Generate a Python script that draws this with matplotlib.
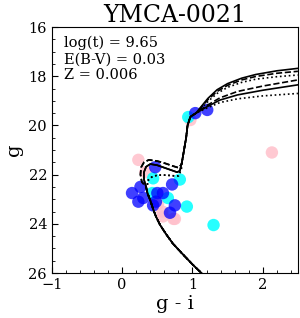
import numpy as np
import matplotlib
matplotlib.use("Agg")
import matplotlib.pyplot as plt
from matplotlib.ticker import AutoMinorLocator

plt.rcParams['font.family'] = 'DejaVu Serif'

# observed stars (g - i, g)
pink_x = [0.23, 2.13, 0.33, 0.44, 0.51, 0.57, 0.58, 0.73, 0.75, 0.97]
pink_y = [21.4, 21.1, 21.9, 22.8, 23.2, 23.5, 23.7, 23.8, 23.8, 19.78]
cyan_x = [0.94, 0.44, 0.82, 0.43, 0.65, 0.92, 1.30]
cyan_y = [19.66, 22.15, 22.2, 22.75, 22.95, 23.3, 24.05]
blue_x = [0.47, 0.14, 0.26, 0.23, 0.30, 0.44, 0.48, 0.50, 0.58, 0.71, 0.75, 0.68, 1.04, 1.21]
blue_y = [21.7, 22.75, 22.5, 23.1, 22.95, 23.25, 23.1, 22.75, 22.75, 22.4, 23.25, 23.55, 19.5, 19.37]

# isochrone pieces
ms_x = [1.20, 1.00, 0.85, 0.72, 0.62, 0.54, 0.48, 0.44, 0.40, 0.36, 0.34]
ms_y = [26.2, 25.65, 25.2, 24.8, 24.4, 24.05, 23.7, 23.4, 23.05, 22.75, 22.5]

to_solid_x = [0.31, 0.31, 0.34, 0.40, 0.50, 0.60, 0.70, 0.78, 0.82]
to_solid_y = [22.2, 21.9, 21.68, 21.57, 21.62, 21.72, 21.82, 21.9, 21.85]
to_dash_x = [0.28, 0.26, 0.27, 0.31, 0.38, 0.50, 0.62, 0.72, 0.80, 0.84]
to_dash_y = [22.3, 22.0, 21.7, 21.5, 21.4, 21.45, 21.55, 21.65, 21.72, 21.6]
to_dot_x = [0.36, 0.36, 0.42, 0.50, 0.62, 0.74, 0.80, 0.84]
to_dot_y = [22.5, 22.25, 22.1, 22.02, 22.02, 22.05, 22.05, 21.8]

rgb_x = [0.85, 0.88, 0.91, 0.93, 0.97, 1.05]
rgb_y = [21.5, 21.0, 20.5, 20.0, 19.65, 19.5]

upA_solid_x = [1.12, 1.22, 1.35, 1.50, 1.70, 1.90, 2.20, 2.50]
upA_solid_y = [19.25, 18.9, 18.55, 18.3, 18.08, 17.93, 17.78, 17.68]
upA_dash_x = [1.12, 1.22, 1.35, 1.50, 1.70, 1.90, 2.20, 2.50]
upA_dash_y = [19.28, 18.95, 18.62, 18.37, 18.15, 18.01, 17.88, 17.80]
upA_dot_x = [1.13, 1.23, 1.35, 1.50, 1.70, 1.90, 2.20, 2.50]
upA_dot_y = [19.3, 19.0, 18.7, 18.45, 18.25, 18.12, 18.02, 17.95]
upB_dash_x = [1.20, 1.39, 1.64, 2.00, 2.50]
upB_dash_y = [19.2, 18.88, 18.62, 18.40, 18.15]
upB_solid_x = [1.20, 1.39, 1.64, 2.00, 2.50]
upB_solid_y = [19.25, 18.97, 18.76, 18.57, 18.35]
upB_dot_x = [1.20, 1.39, 1.64, 2.00, 2.50]
upB_dot_y = [19.3, 19.07, 18.92, 18.80, 18.70]

fig = plt.figure(figsize=(3.0, 3.18), dpi=100)
ax = fig.add_axes([0.173, 0.1415, 0.82, 0.7735])

ax.scatter(pink_x, pink_y, s=80, color='pink', alpha=0.85, edgecolors='none', zorder=1)
ax.scatter(cyan_x, cyan_y, s=80, color='cyan', alpha=0.85, edgecolors='none', zorder=2)
ax.scatter(blue_x, blue_y, s=80, color='blue', alpha=0.75, edgecolors='none', zorder=3)

tos = {'-': (to_solid_x, to_solid_y), '--': (to_dash_x, to_dash_y), ':': (to_dot_x, to_dot_y)}
uppers = [('-', upA_solid_x, upA_solid_y), ('--', upA_dash_x, upA_dash_y), (':', upA_dot_x, upA_dot_y),
          ('--', upB_dash_x, upB_dash_y), ('-', upB_solid_x, upB_solid_y), (':', upB_dot_x, upB_dot_y)]
for ls, ux, uy in uppers:
    tx, ty = tos[ls]
    xx = ms_x + tx + rgb_x + ux
    yy = ms_y + ty + rgb_y + uy
    ax.plot(xx, yy, color='black', ls=ls, lw=1.2, zorder=4)

ax.set_xlim(-1, 2.5)
ax.set_ylim(26, 16)
ax.set_xticks([-1, 0, 1, 2])
ax.set_yticks([16, 18, 20, 22, 24, 26])
ax.xaxis.set_minor_locator(AutoMinorLocator(5))
ax.yaxis.set_minor_locator(AutoMinorLocator(4))
ax.tick_params(which='both', direction='in', labelsize=10.5)
ax.tick_params(which='major', length=4)
ax.tick_params(which='minor', length=2)
ax.set_xlabel('g - i', fontsize=14, labelpad=2)
ax.set_ylabel('g', fontsize=14, labelpad=4)
ax.set_title('YMCA-0021', fontsize=17, pad=3)
ax.text(0.05, 0.965, 'log(t) = 9.65\nE(B-V) = 0.03\nZ = 0.006', transform=ax.transAxes,
        ha='left', va='top', fontsize=10.5, linespacing=1.2)

fig.savefig('out.png', dpi=100)
